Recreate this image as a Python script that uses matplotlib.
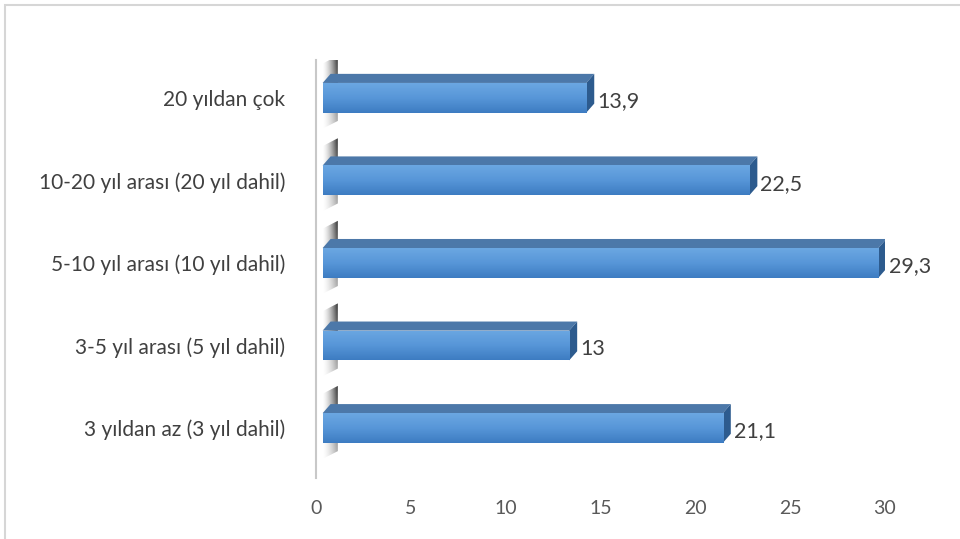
import matplotlib.pyplot as plt
import matplotlib.patches as mpatches
import numpy as np

categories = ['3 yıldan az (3 yıl dahil)', '3-5 yıl arası (5 yıl dahil)',
              '5-10 yıl arası (10 yıl dahil)', '10-20 yıl arası (20 yıl dahil)',
              '20 yıldan çok']
values = [21.1, 13, 29.3, 22.5, 13.9]
value_labels = ['21,1', '13', '29,3', '22,5', '13,9']
xticks = [0, 5, 10, 15, 20, 25, 30]

plt.rcParams['font.family'] = ['Lato', 'DejaVu Sans']

fig = plt.figure(figsize=(9.6, 5.39), dpi=100)
ax = fig.add_axes([316 / 960, 0.114, 569 / 960, 0.775])

# outer frame
fig.patches.append(mpatches.Rectangle((5 / 960, -0.02), 1.0, 1 - 5 / 539 + 0.02,
                                      transform=fig.transFigure, fill=False,
                                      edgecolor='#d6d6d6', lw=1.5))

h = 0.36      # bar thickness
x0 = 0.35     # front face start
dx = 0.42     # depth in x
dy = 0.11     # depth in y

grad = np.linspace(0, 1, 100).reshape(-1, 1)
bluemap = plt.matplotlib.colors.LinearSegmentedColormap.from_list(
    'b', ['#3d7cc2', '#5796d8', '#6ba7e2'])

# shadow on the back wall (black with alpha gradient)
xs = np.linspace(0, 1, 60)
ys = np.linspace(0, 1, 120)
X, Y = np.meshgrid(xs, ys)
wall_img = np.zeros((120, 60, 4))
wall_img[..., 3] = 0.9 * X ** 1.6 * (0.35 + 0.65 * Y)

for i, v in enumerate(values):
    top = i + h / 2
    bot = i - h / 2
    wy0 = bot - 0.2
    wy1 = top + 0.33
    wall = mpatches.Polygon([(0.3, wy0), (1.15, wy0 + 0.1),
                             (1.15, wy1), (0.3, wy1 - 0.1)],
                            closed=True, facecolor='none', edgecolor='none')
    ax.add_patch(wall)
    im = ax.imshow(wall_img, aspect='auto', origin='lower',
                   extent=(0.3, 1.15, wy0, wy1), zorder=1)
    im.set_clip_path(wall)
    # top face
    ax.add_patch(mpatches.Polygon([(x0, top), (x0 + dx, top + dy), (x0 + v + dx, top + dy),
                                   (x0 + v, top)], closed=True, facecolor='#4c78a9',
                                  edgecolor='none', zorder=3))
    # end face
    ax.add_patch(mpatches.Polygon([(x0 + v, bot), (x0 + v + dx, bot + dy),
                                   (x0 + v + dx, top + dy), (x0 + v, top)], closed=True,
                                  facecolor='#2d5b8e', edgecolor='none', zorder=3))
    # front face with gradient
    front = mpatches.Rectangle((x0, bot), v, h, facecolor='none', edgecolor='none')
    ax.add_patch(front)
    im = ax.imshow(grad, cmap=bluemap, aspect='auto',
                   extent=(x0, x0 + v, bot, top), origin='lower', zorder=4)
    im.set_clip_path(front)
    ax.text(x0 + v + dx + 0.15, i - 0.04, value_labels[i], ha='left', va='center',
            fontsize=15.5, color='#404040')

ax.set_xlim(0, 30)
ax.set_ylim(-0.6, 4.46)

ax.set_yticks(range(len(categories)))
ax.set_yticklabels(categories, fontsize=15, color='#404040')
ax.set_xticks(xticks)
ax.set_xticklabels([str(t) for t in xticks], fontsize=14, color='#595959')
ax.tick_params(length=0)
ax.tick_params(axis='y', pad=22)
ax.tick_params(axis='x', pad=16)
for s in ['top', 'right', 'bottom']:
    ax.spines[s].set_visible(False)
ax.spines['left'].set_color('#c8c8c8')
ax.spines['left'].set_linewidth(1.5)

fig.savefig('out.png', dpi=100)
